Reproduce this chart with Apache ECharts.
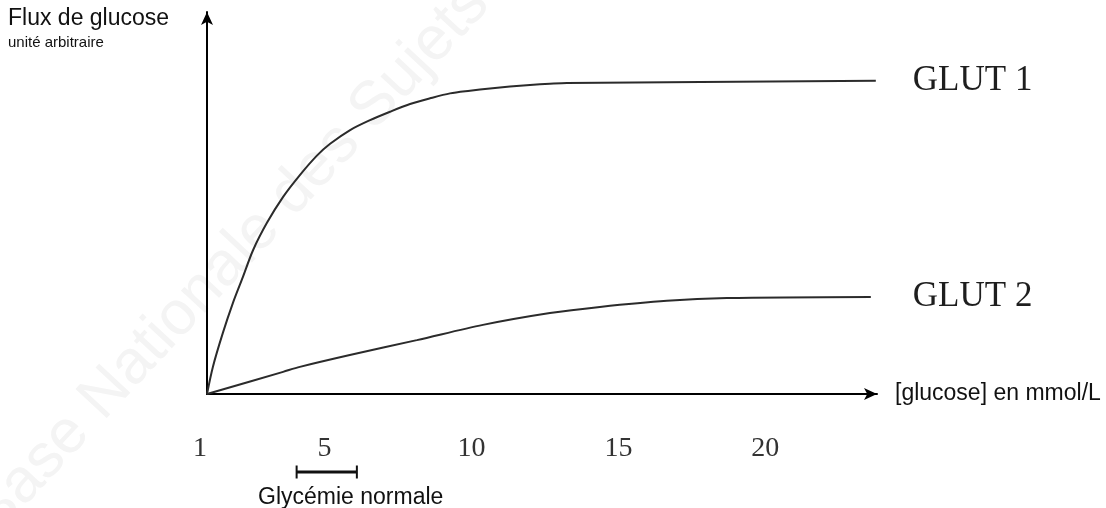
<!DOCTYPE html>
<html>
<head>
<meta charset="utf-8">
<script src="https://cdn.jsdelivr.net/npm/echarts@6/dist/echarts.min.js"></script>
<style>
  html, body { margin: 0; padding: 0; background: #fff; }
  #chart { width: 1106px; height: 508px; }
</style>
</head>
<body>
<div id="chart"></div>
<script>
// ==========================================================================
// Data (glucose in mmol/L, flux in arbitrary units)
// ==========================================================================
var glucoseTicks = [1, 5, 10, 15, 20];

var glut1Glucose = [1, 1.2, 1.54, 1.88, 2.22, 2.57, 3.04, 3.59, 4.16, 4.74, 5.19, 5.87, 6.55, 7.23, 7.91, 8.59, 9.27, 9.95, 10.63, 11.31, 11.99, 12.67, 13.25, 23.76];
var glut1Flux    = [0, 7.1, 16.0, 23.8, 30.6, 37.7, 44.8, 51.6, 57.3, 62.4, 65.5, 69.1, 71.7, 73.9, 75.9, 77.4, 78.7, 79.4, 80.0, 80.5, 80.9, 81.2, 81.4, 82.0];

var glut2Glucose = [1, 3.59, 4.16, 5.86, 8.14, 10.39, 12.67, 14.37, 16.65, 18.69, 23.59];
var glut2Flux    = [0, 5.8, 7.1, 10.2, 14.1, 18.1, 21.2, 22.8, 24.4, 25.1, 25.4];

var glycemiaRange = [4.05, 6.1];

var seriesNames = ['GLUT 1', 'GLUT 2'];

function zip(xs, ys) {
    return xs.map((x, i) => [x, ys[i]]);
}

var chart = echarts.init(document.getElementById('chart'));

var sansFont = '"Liberation Sans", Arial, sans-serif';
var serifFont = '"Liberation Serif", "Times New Roman", serif';

function curveSeries(name, data, labelGap) {
    return {
        name: name,
        type: 'line',
        data: data,
        smooth: 0.3,
        symbol: 'none',
        lineStyle: { color: '#2b2b2b', width: 2 },
        endLabel: {
            show: true,
            formatter: '{a}',
            distance: labelGap,
            fontFamily: serifFont,
            fontSize: 35,
            color: '#1e1e1e'
        },
        silent: true
    };
}

chart.setOption({
    animation: false,
    title: {
        text: 'Flux de glucose',
        subtext: 'unité arbitraire',
        left: 8,
        top: 7,
        itemGap: 5,
        padding: 0,
        textStyle: { fontFamily: sansFont, fontSize: 23, fontWeight: 'normal', color: '#111' },
        subtextStyle: { fontFamily: sansFont, fontSize: 15, color: '#111' }
    },
    grid: [
        { left: 207, right: 229, top: 12, bottom: 114 },
        // strip below the axis for the normal glycaemia bracket
        { left: 207, right: 229, top: 466, height: 12 }
    ],
    xAxis: [
        {
            type: 'value',
            gridIndex: 0,
            min: 1,
            max: 23.8,
            name: '[glucose] en mmol/L',
            nameLocation: 'end',
            nameGap: 18,
            nameTextStyle: { fontFamily: sansFont, fontSize: 23, color: '#111' },
            axisLine: {
                show: true,
                symbol: ['none', 'arrow'],
                symbolSize: [9, 13],
                lineStyle: { color: '#000', width: 2 }
            },
            axisTick: { show: false },
            splitLine: { show: false },
            axisLabel: {
                customValues: glucoseTicks,
                alignMinLabel: 'right',
                margin: 41,
                fontFamily: serifFont,
                fontSize: 28,
                color: '#333'
            }
        },
        {
            type: 'value',
            gridIndex: 1,
            min: 1,
            max: 23.8,
            show: false
        }
    ],
    yAxis: [
        {
            type: 'value',
            gridIndex: 0,
            min: 0,
            max: 100,
            axisLine: {
                show: true,
                symbol: ['none', 'arrow'],
                symbolSize: [9, 13],
                lineStyle: { color: '#000', width: 2 }
            },
            axisTick: { show: false },
            axisLabel: { show: false },
            splitLine: { show: false }
        },
        {
            type: 'value',
            gridIndex: 1,
            min: -1,
            max: 1,
            show: false
        }
    ],
    graphic: [
        {
            // faint watermark of the source document
            type: 'text',
            x: -40,
            y: 505,
            rotation: 47 * Math.PI / 180,
            silent: true,
            z: -10,
            style: {
                text: "Base Nationale des Sujets d'Examens",
                fontFamily: sansFont,
                fontSize: 62,
                fill: '#f4f4f4'
            }
        },
        {
            type: 'text',
            left: 258,
            top: 486,
            style: {
                text: 'Glycémie normale',
                fontFamily: sansFont,
                fontSize: 23,
                fill: '#111'
            }
        }
    ],
    series: [
        curveSeries(seriesNames[0], zip(glut1Glucose, glut1Flux), 37),
        curveSeries(seriesNames[1], zip(glut2Glucose, glut2Flux), 42),
        {
            name: 'Glycémie normale',
            type: 'line',
            xAxisIndex: 1,
            yAxisIndex: 1,
            data: glycemiaRange.map(v => [v, 0]),
            symbol: 'rect',
            symbolSize: [2, 13],
            itemStyle: { color: '#111' },
            lineStyle: { color: '#111', width: 3 },
            silent: true
        }
    ]
});
</script>
</body>
</html>
